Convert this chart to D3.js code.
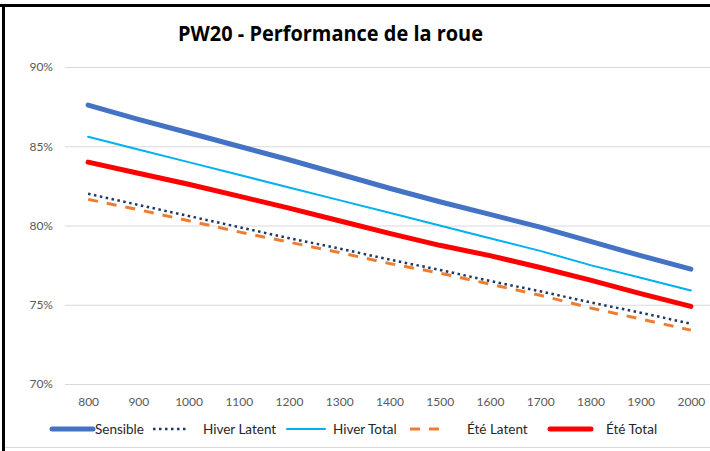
<!DOCTYPE html>
<html>
<head>
<meta charset="utf-8">
<script src="https://cdn.jsdelivr.net/npm/d3@7"></script>
<style>
	body { margin: 0; background: #fff; }
	svg { display: block; }
</style>
</head>
<body>
<svg id="chart"></svg>
<script>
// data
var debits = ["800", "900", "1000", "1100", "1200", "1300", "1400", "1500", "1600", "1700", "1800", "1900", "2000"];
var sensible = [87.6, 86.7, 85.85, 85.0, 84.15, 83.25, 82.35, 81.5, 80.7, 79.9, 79.0, 78.1, 77.25];
var hiverLatent = [82.0, 81.3, 80.6, 79.9, 79.2, 78.55, 77.85, 77.2, 76.5, 75.85, 75.15, 74.5, 73.8];
var hiverTotal = [85.6, 84.8, 84.0, 83.2, 82.4, 81.6, 80.8, 80.0, 79.2, 78.4, 77.5, 76.7, 75.9];
var eteLatent = [81.65, 81.0, 80.3, 79.6, 78.95, 78.3, 77.6, 77.0, 76.3, 75.6, 74.8, 74.1, 73.4];
var eteTotal = [84.0, 83.3, 82.6, 81.85, 81.1, 80.3, 79.5, 78.75, 78.1, 77.35, 76.55, 75.7, 74.9];
var yTicks = [70, 75, 80, 85, 90];
var seriesNames = ["Sensible", "Hiver Latent", "Hiver Total", "Été Latent", "Été Total"];

var w = 710, h = 451;
var font = "Lato, 'Open Sans', sans-serif";
var svg = d3.select("#chart").attr("width", w).attr("height", h);

// styles for each series, same order as seriesNames
var styles = [
	{ color: "#4472C4", width: 5, dash: null, cap: "round" },
	{ color: "#1F3864", width: 2.5, dash: "2.5,3.5", cap: "butt" },
	{ color: "#00B0F0", width: 2, dash: null, cap: "round" },
	{ color: "#ED7D31", width: 3, dash: "10,9", cap: "butt" },
	{ color: "#FF0000", width: 5, dash: null, cap: "round" }
];
var values = [sensible, hiverLatent, hiverTotal, eteLatent, eteTotal];

var x = d3.scalePoint().domain(debits).range([63, 716]).padding(0.5);
var y = d3.scaleLinear().domain([70, 90]).range([384, 67]);

// frame of the screenshot
svg.append("line").attr("x1", 0).attr("x2", w).attr("y1", 5.5).attr("y2", 5.5)
	.attr("stroke", "#000").attr("stroke-width", 3);
svg.append("line").attr("x1", 3.5).attr("x2", 3.5).attr("y1", 4).attr("y2", h)
	.attr("stroke", "#000").attr("stroke-width", 3);
svg.append("line").attr("x1", 5).attr("x2", w).attr("y1", 447.5).attr("y2", 447.5)
	.attr("stroke", "#d9d9d9").attr("stroke-width", 1);

// y axis + gridlines
var yAxis = svg.append("g")
	.attr("transform", "translate(65,0)")
	.call(d3.axisLeft(y).tickValues(yTicks).tickSize(-645).tickPadding(12)
		.tickFormat(function (d) { return d + "%"; }));
yAxis.select(".domain").remove();
yAxis.selectAll(".tick line").attr("stroke", "#d9d9d9");
yAxis.selectAll(".tick text")
	.attr("fill", "#595959")
	.attr("font-family", font)
	.attr("font-size", "12px");

// x axis
var xAxis = svg.append("g")
	.attr("transform", "translate(0,384)")
	.call(d3.axisBottom(x).tickSize(0).tickPadding(13));
xAxis.select(".domain").remove();
xAxis.selectAll(".tick text")
	.attr("fill", "#595959")
	.attr("font-family", font)
	.attr("font-size", "12px");

// series lines
var line = d3.line()
	.x(function (d, i) { return x(debits[i]); })
	.y(function (d) { return y(d); });

values.forEach(function (vals, k) {
	var s = styles[k];
	svg.append("path")
		.datum(vals)
		.attr("d", line)
		.attr("fill", "none")
		.attr("stroke", s.color)
		.attr("stroke-width", s.width)
		.attr("stroke-linecap", s.cap)
		.attr("stroke-linejoin", "round")
		.attr("stroke-dasharray", s.dash);
});

// title
svg.append("text")
	.attr("x", 178)
	.attr("y", 41)
	.attr("textLength", 305)
	.attr("lengthAdjust", "spacingAndGlyphs")
	.attr("font-family", "'Open Sans', sans-serif")
	.attr("font-weight", "bold")
	.attr("font-size", "21px")
	.attr("fill", "#000")
	.text("PW20 - Performance de la roue");

// legend (swatch start, swatch end, label x)
var legendPos = [[52, 93, 95], [153, 187, 203], [287, 325, 333], [410, 441, 467], [550, 591, 606]];
var legend = svg.append("g");
seriesNames.forEach(function (name, k) {
	var s = styles[k], p = legendPos[k];
	legend.append("line")
		.attr("x1", p[0]).attr("x2", p[1])
		.attr("y1", 429).attr("y2", 429)
		.attr("stroke", s.color)
		.attr("stroke-width", s.width)
		.attr("stroke-linecap", s.cap)
		.attr("stroke-dasharray", s.dash);
	legend.append("text")
		.attr("x", p[2])
		.attr("y", 429)
		.attr("dy", "0.35em")
		.attr("font-family", font)
		.attr("font-size", "13.5px")
		.attr("fill", "#262626")
		.text(name);
});
</script>
</body>
</html>
